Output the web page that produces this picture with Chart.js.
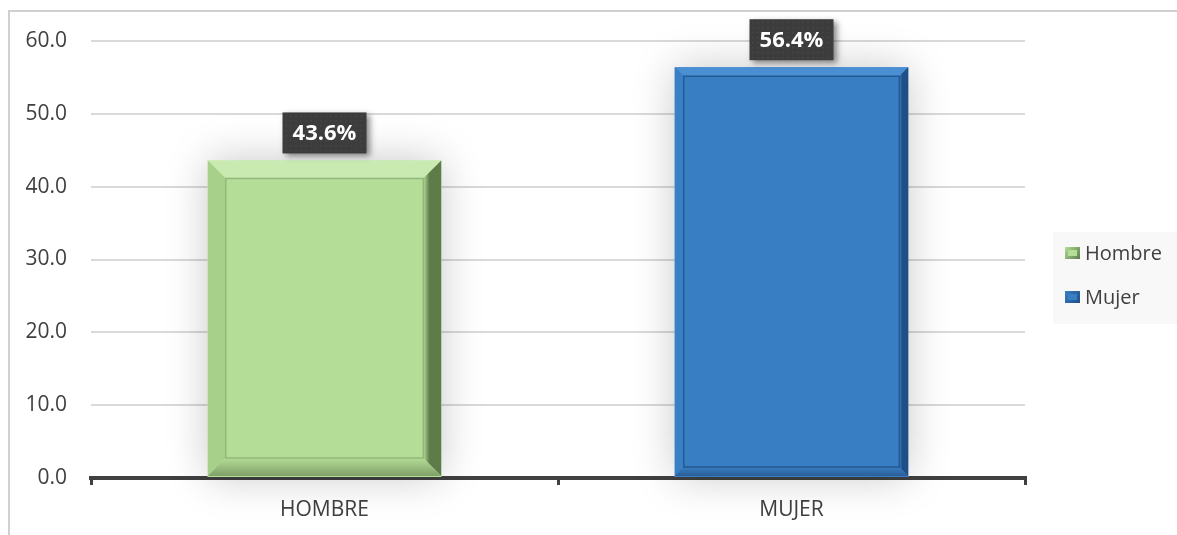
<!DOCTYPE html>
<html><head><meta charset="utf-8">
<script src="https://cdn.jsdelivr.net/npm/chart.js@4"></script>
<style>html,body{margin:0;padding:0;background:#fff}#wrap{width:1177px;height:535px;position:relative}</style>
</head><body><div id="wrap"><canvas id="c" width="1177" height="535"></canvas></div>
<script>
const categories = ['HOMBRE', 'MUJER'];
const legendLabels = ['Hombre', 'Mujer'];
const values = [43.6, 56.4];
const valueLabels = ['43.6%', '56.4%'];
const yTicks = [0, 10, 20, 30, 40, 50, 60];

const FONT = '"Open Sans", "Liberation Sans", sans-serif';
const faceColors = ['#b4dd97', '#387ec3'];
const bevelStyles = [
  {w: 18, top: '#c9ebb1', left: '#a7d18a', right: '#5e7c4a', bottom: '#7fa067', line: '#93b97a'},
  {w: 9, top: '#4a8fd2', left: '#3a80c5', right: '#1f4f86', bottom: '#2a5e97', line: '#245a92'}
];

const decor = {
  id: 'decor',
  beforeDraw(chart) {
    const ctx = chart.ctx;
    ctx.save();
    ctx.fillStyle = '#fff';
    ctx.fillRect(0, 0, chart.width, chart.height);
    ctx.strokeStyle = '#d0d0d0';
    ctx.lineWidth = 2;
    ctx.beginPath();
    ctx.moveTo(9, chart.height);
    ctx.lineTo(9, 11);
    ctx.lineTo(chart.width, 11);
    ctx.stroke();
    ctx.fillStyle = '#f8f8f8';
    ctx.fillRect(1053, 232, chart.width - 1053, 92);
    ctx.restore();
  },
  beforeDatasetsDraw(chart) {
    const ctx = chart.ctx;
    const meta = chart.getDatasetMeta(0);
    ctx.save();
    meta.data.forEach((bar) => {
      const l = bar.x - bar.width / 2, r = bar.x + bar.width / 2;
      ctx.shadowColor = 'rgba(0,0,0,0.22)';
      ctx.shadowBlur = 40;
      ctx.fillStyle = 'rgba(255,255,255,1)';
      ctx.fillRect(l, bar.y, r - l, bar.base - bar.y);
    });
    ctx.restore();
  },
  afterDatasetsDraw(chart) {
    const ctx = chart.ctx;
    const meta = chart.getDatasetMeta(0);
    ctx.save();
    meta.data.forEach((bar, i) => {
      const s = bevelStyles[i];
      const l = bar.x - bar.width / 2, r = bar.x + bar.width / 2;
      const t = bar.y, b = bar.base - 1;
      const w = s.w;
      const poly = (pts, c) => {
        ctx.fillStyle = c;
        ctx.beginPath();
        ctx.moveTo(pts[0][0], pts[0][1]);
        for (let k = 1; k < pts.length; k++) ctx.lineTo(pts[k][0], pts[k][1]);
        ctx.closePath();
        ctx.fill();
      };
      poly([[l, t], [r, t], [r - w, t + w], [l + w, t + w]], s.top);
      poly([[l, t], [l + w, t + w], [l + w, b - w], [l, b]], s.left);
      const gR = ctx.createLinearGradient(r - w, 0, r, 0);
      gR.addColorStop(0, faceColors[i]);
      gR.addColorStop(0.35, s.right);
      gR.addColorStop(1, s.right);
      poly([[r, t], [r, b], [r - w, b - w], [r - w, t + w]], gR);
      const gB = ctx.createLinearGradient(0, b - w, 0, b);
      gB.addColorStop(0, faceColors[i]);
      gB.addColorStop(1, s.bottom);
      poly([[l, b], [r, b], [r - w, b - w], [l + w, b - w]], gB);
      ctx.strokeStyle = s.line;
      ctx.lineWidth = 1.5;
      ctx.strokeRect(l + w, t + w, r - l - 2 * w, b - t - 2 * w);
      ctx.font = 'bold 22px ' + FONT;
      const txt = valueLabels[i];
      const bw = 84, bh = 41;
      const bx = bar.x - bw / 2, by = t - 7 - bh;
      ctx.save();
      ctx.shadowColor = 'rgba(0,0,0,0.45)';
      ctx.shadowBlur = 6;
      ctx.shadowOffsetX = 3;
      ctx.shadowOffsetY = 3;
      ctx.fillStyle = '#3c3c3c';
      ctx.fillRect(bx, by, bw, bh);
      ctx.restore();
      ctx.fillStyle = '#555';
      for (let yy = by + 3; yy < by + bh; yy += 5)
        for (let xx = bx + 3; xx < bx + bw; xx += 5) ctx.fillRect(xx, yy, 1, 1);
      ctx.fillStyle = '#fff';
      ctx.textAlign = 'center';
      ctx.textBaseline = 'middle';
      ctx.fillText(txt, bar.x, by + bh / 2 + 1);
    });
    ctx.restore();
  },
  afterDraw(chart) {
    const ctx = chart.ctx;
    ctx.save();
    const ys = [253, 297];
    legendLabels.forEach((lab, i) => {
      const mx = 1065, my = ys[i] - 6;
      const g = ctx.createLinearGradient(mx, my, mx + 15, my + 12);
      g.addColorStop(0, faceColors[i]);
      g.addColorStop(1, bevelStyles[i].right);
      ctx.fillStyle = g;
      ctx.fillRect(mx, my, 15, 12);
      ctx.fillStyle = faceColors[i];
      ctx.fillRect(mx + 3, my + 3, 9, 6);
      ctx.fillStyle = '#404040';
      ctx.font = '20px ' + FONT;
      ctx.textAlign = 'left';
      ctx.textBaseline = 'middle';
      ctx.fillText(lab, 1085, ys[i] + 1);
    });
    ctx.restore();
  }
};

new Chart(document.getElementById('c'), {
  type: 'bar',
  data: {
    labels: categories,
    datasets: [{
      label: 'Porcentaje',
      data: values,
      backgroundColor: faceColors,
      borderWidth: 0,
      categoryPercentage: 1,
      barPercentage: 0.5
    }]
  },
  options: {
    responsive: false,
    animation: false,
    devicePixelRatio: 1,
    layout: {padding: {top: 41, right: 152, bottom: 0, left: 0}},
    plugins: {legend: {display: false}, tooltip: {enabled: false}},
    scales: {
      x: {
        grid: {drawOnChartArea: false, drawTicks: true, tickLength: 7, color: '#404040', lineWidth: 3},
        border: {display: true, color: '#404040', width: 4},
        ticks: {color: '#404040', font: {family: FONT, size: 21}, padding: 12},
        afterFit(scale) { scale.height = 57; }
      },
      y: {
        min: 0, max: 60,
        afterBuildTicks(scale) { scale.ticks = yTicks.map(v => ({value: v})); },
        grid: {color: '#d9d9d9', lineWidth: 2, drawTicks: false},
        border: {display: false},
        ticks: {color: '#404040', font: {family: FONT, size: 21}, padding: 24,
                callback: (v) => Number(v).toFixed(1)},
        afterFit(scale) { scale.width = 91; }
      }
    }
  },
  plugins: [decor]
});
</script></body></html>
